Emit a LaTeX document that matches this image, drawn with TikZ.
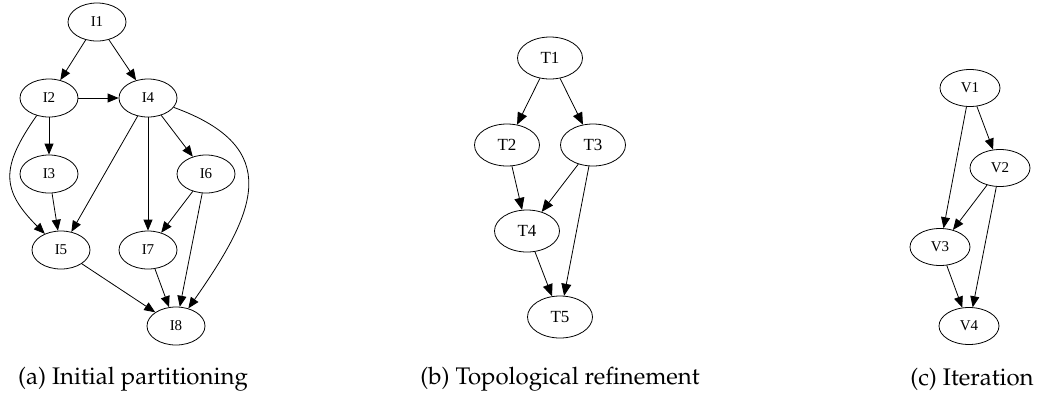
\documentclass[tikz,border=0pt]{standalone}
\usepackage{fontspec}
\setmainfont{Liberation Serif}
\usetikzlibrary{arrows.meta,shapes.geometric}
\newcommand{\subcapfont}{\fontencoding{OT1}\fontfamily{ppl}\fontsize{12}{14}\selectfont}
\tikzset{
	->,
	>={Triangle[length=5.5pt,width=4.5pt]},
	line width=0.5pt,
	task/.style={draw, ellipse, inner sep=0pt, minimum width=29pt, minimum height=19pt,
		font=\fontsize{7.5}{9}\selectfont},
	bigtask/.style={task, minimum width=32.5pt, minimum height=21pt,
		font=\fontsize{8.5}{10}\selectfont},
	subcap/.style={inner sep=0pt, font=\subcapfont},
}

\begin{document}
\begin{tikzpicture}[x=0.5pt, y=0.5pt]
	\useasboundingbox (0,0) rectangle (1039,-397);

	% (a) initial partitioning
	\node[task] (I1) at (97,-22) {I1};
	\node[task] (I2) at (49,-98) {I2};
	\node[task] (I4) at (148,-98) {I4};
	\node[task] (I3) at (49,-174) {I3};
	\node[task] (I6) at (206,-174) {I6};
	\node[task] (I5) at (61,-250) {I5};
	\node[task] (I7) at (148,-250) {I7};
	\node[task] (I8) at (176,-326) {I8};
	\draw (I1) -- (I2);
	\draw (I1) -- (I4);
	\draw (I2) -- (I4);
	\draw (I2) -- (I3);
	\draw (I2) to[out=235, in=135, looseness=1.35] (I5);
	\draw (I3) -- (I5);
	\draw (I4) -- (I5);
	\draw (I4) -- (I7);
	\draw (I4) -- (I6);
	\draw (I4) to[out=-20, in=55, looseness=1.5] (I8);
	\draw (I6) -- (I7);
	\draw (I6) -- (I8);
	\draw (I5) -- (I8);
	\draw (I7) -- (I8);
	\node[subcap] (capa) at (133,-379) {(a) Initial partitioning};

	% (b) topological refinement
	\begin{scope}[>={Triangle[length=6pt,width=5pt]}]
		\node[bigtask] (T1) at (550,-58) {T1};
		\node[bigtask] (T2) at (507,-145) {T2};
		\node[bigtask] (T3) at (593,-145) {T3};
		\node[bigtask] (T4) at (527,-231) {T4};
		\node[bigtask] (T5) at (560,-317) {T5};
		\draw (T1) -- (T2);
		\draw (T1) -- (T3);
		\draw (T2) -- (T4);
		\draw (T3) -- (T4);
		\draw (T3) -- (T5);
		\draw (T4) -- (T5);
	\end{scope}
	\node[subcap] (capb) at (560,-379) {(b) Topological refinement};

	% (c) iteration
	\node[task, minimum width=30pt, minimum height=18.5pt] (V1) at (970,-88) {V1};
	\node[task, minimum width=30pt, minimum height=18.5pt] (V2) at (1000,-168) {V2};
	\node[task, minimum width=30pt, minimum height=18.5pt] (V3) at (940,-247) {V3};
	\node[task, minimum width=30pt, minimum height=18.5pt] (V4) at (969,-326) {V4};
	\draw (V1) -- (V3);
	\draw (V1) -- (V2);
	\draw (V2) -- (V3);
	\draw (V2) -- (V4);
	\draw (V3) -- (V4);
	\node[subcap] (capc) at (972,-379) {(c) Iteration};
\end{tikzpicture}
\end{document}
